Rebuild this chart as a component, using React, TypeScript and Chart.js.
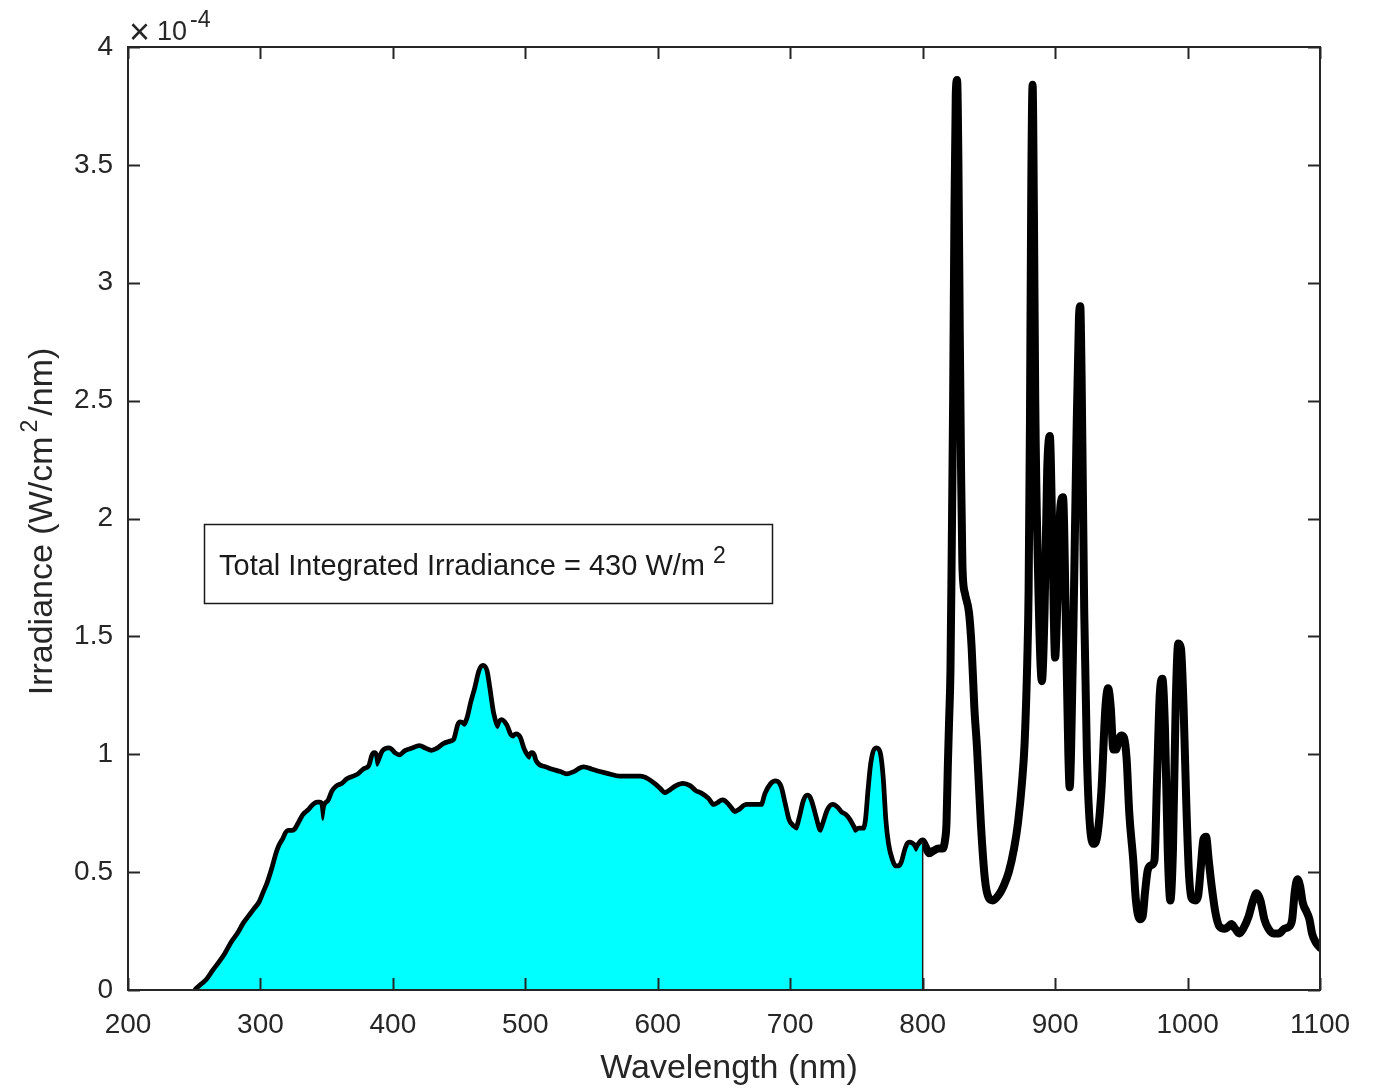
import React, { useEffect, useRef } from "react";
import { Chart, registerables } from "chart.js";

Chart.register(...registerables);

// Wavelength (nm)
const wavelengthNm = [
  252, 256, 260, 265, 269, 274, 279, 284, 288, 292, 296, 300, 303, 306, 310, 313, 315, 318, 321, 324,
  327, 330, 333, 337, 340, 343, 345, 347, 349, 352, 355, 358, 362, 366, 370, 374, 378, 383, 386, 388,
  390, 393, 397, 401, 405, 410, 415, 420, 424, 429, 434, 439, 444, 447, 451, 454, 457, 460, 463, 466,
  468, 470, 472, 475, 479, 482, 485, 488, 491, 493, 495, 498, 501, 503, 505, 507, 510, 515, 520, 526,
  531, 537, 544, 550, 556, 563, 571, 579, 587, 592, 597, 601, 605, 609, 614, 619, 624, 628, 632, 637,
  642, 646, 649, 653, 658, 662, 667, 673, 679, 682, 686, 689, 692, 695, 698, 702, 705, 708, 711, 713,
  715, 718, 721, 723, 726, 729, 732, 735, 738, 741, 744, 747, 749, 752, 756, 758, 760, 762, 765, 767,
  769, 771, 773, 776, 779, 782, 785, 788, 790, 793, 795, 797, 800, 802, 805, 808, 812, 815, 817, 818,
  819, 820, 821, 822, 823, 824, 825, 826, 827, 828, 829, 830, 832, 835, 837, 839, 841, 844, 847, 850,
  853, 857, 861, 865, 869, 872, 875, 877, 879, 880, 881, 882, 883, 884, 885, 887, 890, 892, 894, 896,
  898, 900, 902, 904, 906, 908, 910, 911, 912, 914, 916, 918, 919, 920, 921, 922, 924, 926, 929, 932,
  935, 938, 940, 942, 944, 946, 948, 950, 952, 954, 956, 959, 961, 964, 966, 968, 970, 973, 975, 977,
  979, 981, 983, 985, 987, 989, 991, 993, 995, 997, 999, 1001, 1003, 1006, 1008, 1010, 1012, 1014, 1016, 1018,
  1021, 1024, 1028, 1031, 1033, 1036, 1039, 1042, 1046, 1049, 1052, 1055, 1058, 1061, 1065, 1069, 1073, 1077, 1079, 1081,
  1083, 1085, 1087, 1090, 1092, 1094, 1097, 1100,
];

// Irradiance (x 1e-4 W/cm^2/nm)
const irradiance = [
  0.0, 0.02, 0.04, 0.08, 0.11, 0.15, 0.2, 0.24, 0.28, 0.31, 0.34, 0.37, 0.41, 0.45, 0.52, 0.58, 0.61, 0.64, 0.67, 0.67,
  0.68, 0.71, 0.74, 0.76, 0.78, 0.79, 0.79, 0.72, 0.78, 0.8, 0.84, 0.86, 0.87, 0.89, 0.9, 0.91, 0.93, 0.95, 1.0, 0.95,
  0.97, 1.01, 1.02, 1.0, 0.99, 1.01, 1.02, 1.03, 1.02, 1.01, 1.02, 1.04, 1.05, 1.06, 1.13, 1.12, 1.15, 1.22, 1.28, 1.35,
  1.37, 1.35, 1.28, 1.17, 1.11, 1.14, 1.12, 1.08, 1.07, 1.08, 1.07, 1.02, 0.99, 0.98, 1.0, 0.97, 0.95, 0.94, 0.93, 0.92,
  0.91, 0.92, 0.94, 0.93, 0.92, 0.91, 0.9, 0.9, 0.9, 0.89, 0.87, 0.85, 0.83, 0.84, 0.86, 0.87, 0.86, 0.84, 0.83, 0.81,
  0.78, 0.79, 0.8, 0.78, 0.75, 0.76, 0.78, 0.78, 0.78, 0.83, 0.87, 0.88, 0.86, 0.79, 0.72, 0.69, 0.68, 0.73, 0.8, 0.82,
  0.8, 0.74, 0.68, 0.67, 0.71, 0.76, 0.78, 0.77, 0.75, 0.74, 0.72, 0.69, 0.67, 0.68, 0.68, 0.72, 0.85, 0.96, 1.02, 1.0,
  0.9, 0.72, 0.62, 0.55, 0.52, 0.52, 0.54, 0.6, 0.62, 0.61, 0.59, 0.61, 0.63, 0.61, 0.58, 0.59, 0.6, 0.6, 0.64, 0.71,
  0.95, 1.15, 1.36, 1.9, 2.5, 3.3, 3.8, 3.86, 3.5, 2.8, 2.2, 1.8, 1.68, 1.6, 1.45, 1.2, 1.03, 0.7, 0.47, 0.39,
  0.38, 0.4, 0.44, 0.5, 0.6, 0.71, 0.88, 1.05, 1.4, 1.7, 2.4, 3.4, 3.84, 3.3, 2.5, 1.8, 1.31, 1.6, 2.2, 2.35,
  1.9, 1.41, 1.7, 2.05, 2.09, 1.6, 1.0, 0.86, 1.0, 1.6, 2.3, 2.85, 2.9, 2.6, 2.1, 1.6, 1.0, 0.72, 0.62, 0.66,
  0.85, 1.2, 1.28, 1.2, 1.02, 1.02, 1.06, 1.08, 1.07, 0.98, 0.75, 0.55, 0.38, 0.3, 0.31, 0.42, 0.51, 0.53, 0.55, 0.9,
  1.25, 1.32, 1.1, 0.6, 0.38, 0.6, 1.2, 1.47, 1.45, 1.2, 0.8, 0.5, 0.39, 0.38, 0.4, 0.52, 0.64, 0.65, 0.55, 0.45,
  0.33, 0.27, 0.26, 0.27, 0.28, 0.26, 0.24, 0.26, 0.31, 0.37, 0.41, 0.38, 0.3, 0.26, 0.24, 0.24, 0.26, 0.27, 0.3, 0.42,
  0.47, 0.44, 0.37, 0.33, 0.3, 0.24, 0.2, 0.18,
];

const FILL_LIMIT_NM = 800;
const xTickValues = [200, 300, 400, 500, 600, 700, 800, 900, 1000, 1100];
const yTickValues = [0, 0.5, 1, 1.5, 2, 2.5, 3, 3.5, 4];
const yTickLabels = ["0", "0.5", "1", "1.5", "2", "2.5", "3", "3.5", "4"];

const X_TITLE = "Wavelength (nm)";
const Y_TITLE_MAIN = "Irradiance (W/cm";
const Y_TITLE_SUP = "2";
const Y_TITLE_END = "/nm)";
const EXP_TIMES = "×";
const EXP_BASE = "10";
const EXP_POWER = "-4";
const NOTE_TEXT = "Total Integrated Irradiance = 430 W/m";
const NOTE_SUP = "2";

const FONT = '"Liberation Sans", Arial, Helvetica, sans-serif';
const AXIS_COLOR = "#262626";

const matlabAxes = {
  id: "matlabAxes",
  afterDatasetsDraw(chart: any) {
    // edge of the integrated area at the fill limit
    const { ctx, scales } = chart;
    const i = wavelengthNm.indexOf(FILL_LIMIT_NM);
    if (i < 0) return;
    const px = scales.x.getPixelForValue(FILL_LIMIT_NM);
    ctx.save();
    ctx.strokeStyle = "#1a1a1a";
    ctx.lineWidth = 1.5;
    ctx.beginPath();
    ctx.moveTo(px, scales.y.getPixelForValue(irradiance[i]));
    ctx.lineTo(px, scales.y.getPixelForValue(0));
    ctx.stroke();
    ctx.restore();
  },
  afterDraw(chart: any) {
    const { ctx, chartArea: a, scales } = chart;
    ctx.save();
    // box
    ctx.strokeStyle = AXIS_COLOR;
    ctx.lineWidth = 2;
    ctx.strokeRect(a.left, a.top, a.right - a.left, a.bottom - a.top);
    // inward ticks
    const TL = 12;
    ctx.beginPath();
    for (const v of xTickValues) {
      const px = Math.round(scales.x.getPixelForValue(v)) + 0.5;
      ctx.moveTo(px, a.bottom);
      ctx.lineTo(px, a.bottom - TL);
      ctx.moveTo(px, a.top);
      ctx.lineTo(px, a.top + TL);
    }
    for (const v of yTickValues) {
      const py = Math.round(scales.y.getPixelForValue(v)) + 0.5;
      ctx.moveTo(a.left, py);
      ctx.lineTo(a.left + TL, py);
      ctx.moveTo(a.right, py);
      ctx.lineTo(a.right - TL, py);
    }
    ctx.stroke();

    ctx.fillStyle = AXIS_COLOR;
    ctx.textBaseline = "alphabetic";
    // exponent label
    ctx.textAlign = "left";
    ctx.font = `36px ${FONT}`;
    ctx.fillText(EXP_TIMES, a.left + 1, a.top - 3);
    ctx.font = `27px ${FONT}`;
    ctx.fillText(EXP_BASE, a.left + 29, a.top - 7);
    ctx.font = `23px ${FONT}`;
    ctx.fillText(EXP_POWER, a.left + 62, a.top - 20);

    // x title
    ctx.textAlign = "center";
    ctx.font = `34px ${FONT}`;
    ctx.fillText(X_TITLE, (a.left + a.right) / 2 + 5, 1078);

    // y title with superscript
    ctx.save();
    ctx.translate(52, (a.top + a.bottom) / 2 + 3);
    ctx.rotate(-Math.PI / 2);
    ctx.textAlign = "left";
    ctx.font = `34px ${FONT}`;
    const w1 = ctx.measureText(Y_TITLE_MAIN).width;
    const w3 = ctx.measureText(Y_TITLE_END).width;
    ctx.font = `23px ${FONT}`;
    const w2 = ctx.measureText(Y_TITLE_SUP).width;
    const gap = 4;
    const total = w1 + gap + w2 + gap + w3;
    let x0 = -total / 2;
    ctx.font = `34px ${FONT}`;
    ctx.fillText(Y_TITLE_MAIN, x0, 0);
    x0 += w1 + gap;
    ctx.font = `23px ${FONT}`;
    ctx.fillText(Y_TITLE_SUP, x0, -15);
    x0 += w2 + gap;
    ctx.font = `34px ${FONT}`;
    ctx.fillText(Y_TITLE_END, x0, 0);
    ctx.restore();

    // annotation box
    ctx.strokeStyle = "#1a1a1a";
    ctx.lineWidth = 1.5;
    ctx.strokeRect(204.5, 524.5, 568, 79);
    ctx.fillStyle = "#1a1a1a";
    ctx.textAlign = "left";
    ctx.font = `29px ${FONT}`;
    ctx.fillText(NOTE_TEXT, 219, 575);
    const nw = ctx.measureText(NOTE_TEXT).width;
    ctx.font = `23px ${FONT}`;
    ctx.fillText(NOTE_SUP, 219 + nw + 8, 563);
    ctx.restore();
  },
};

export default function App() {
  const canvasRef = useRef<HTMLCanvasElement | null>(null);

  useEffect(() => {
    const canvas = canvasRef.current;
    if (!canvas) return;
    const linePts = wavelengthNm.map((x, i) => ({ x, y: irradiance[i] }));
    const areaPts = linePts.filter((p) => p.x <= FILL_LIMIT_NM);

    const chart = new Chart(canvas, {
      type: "line",
      data: {
        datasets: [
          {
            label: "spectrum",
            data: linePts,
            borderColor: "#000000",
            borderWidth: 8,
            borderJoinStyle: "round",
            borderCapStyle: "round",
            pointRadius: 0,
            fill: false,
            cubicInterpolationMode: "monotone",
            order: 2,
          },
          {
            label: "integrated",
            data: areaPts,
            borderColor: "#000000",
            backgroundColor: "#00FFFF",
            borderWidth: 1.5,
            pointRadius: 0,
            fill: "origin",
            cubicInterpolationMode: "monotone",
            order: 1,
          },
        ],
      },
      options: {
        responsive: false,
        animation: false,
        events: [],
        layout: { padding: { top: 47, right: 59, left: 0, bottom: 0 } },
        plugins: {
          legend: { display: false },
          tooltip: { enabled: false },
        },
        scales: {
          x: {
            type: "linear",
            min: 200,
            max: 1100,
            grid: { display: false, drawTicks: false },
            border: { display: false },
            afterBuildTicks: (s: any) => {
              s.ticks = xTickValues.map((v) => ({ value: v }));
            },
            afterFit: (s: any) => {
              s.height = 101;
            },
            ticks: {
              autoSkip: false,
              maxRotation: 0,
              minRotation: 0,
              padding: 18,
              color: AXIS_COLOR,
              font: { family: FONT, size: 28 },
              callback: (v: any) => String(v),
            },
          },
          y: {
            type: "linear",
            min: 0,
            max: 4,
            grid: { display: false, drawTicks: false },
            border: { display: false },
            afterBuildTicks: (s: any) => {
              s.ticks = yTickValues.map((v) => ({ value: v }));
            },
            afterFit: (s: any) => {
              s.width = 128;
            },
            ticks: {
              autoSkip: false,
              padding: 15,
              color: AXIS_COLOR,
              font: { family: FONT, size: 28 },
              callback: (v: any) => {
                const i = yTickValues.indexOf(Number(v));
                return i >= 0 ? yTickLabels[i] : "";
              },
            },
          },
        },
      },
      plugins: [matlabAxes],
    });
    return () => chart.destroy();
  }, []);

  return (
    <div style={{ position: "absolute", left: 0, top: 0, width: 1379, height: 1091, background: "#fff" }}>
      <canvas ref={canvasRef} width={1379} height={1091} style={{ width: 1379, height: 1091, display: "block" }} />
    </div>
  );
}
